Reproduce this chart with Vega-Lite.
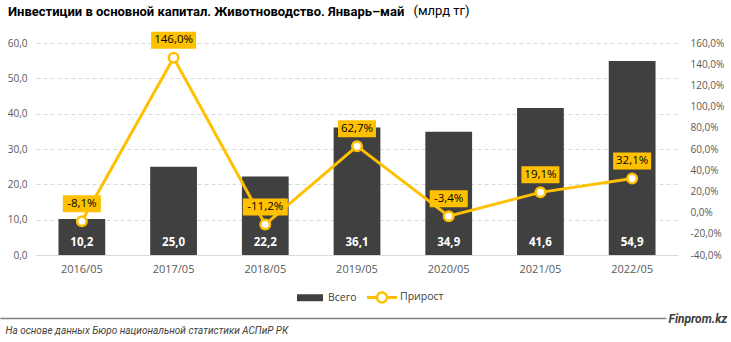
{
  "$schema": "https://vega.github.io/schema/vega-lite/v6.json",
  "width": 642,
  "height": 212,
  "autosize": {"type": "none"},
  "padding": {"left": 36, "top": 43, "right": 53, "bottom": 87},
  "background": "white",
  "config": {
    "locale": {"number": {"decimal": ",", "thousands": " ", "grouping": [3], "currency": ["", ""], "minus": "-"}},
    "font": "Open Sans",
    "view": {"stroke": null}
  },
  "title": {
    "text": "Инвестиции в основной капитал. Животноводство. Январь–май",
    "anchor": "start",
    "frame": "group",
    "dx": -28,
    "offset": -15,
    "font": "Roboto",
    "fontSize": 13,
    "fontWeight": "bold",
    "color": "#000000"
  },
  "data": {
    "values": [
      {"cat": "2016/05", "value": 10.2, "growth": -0.081},
      {"cat": "2017/05", "value": 25.0, "growth": 1.46},
      {"cat": "2018/05", "value": 22.2, "growth": -0.112},
      {"cat": "2019/05", "value": 36.1, "growth": 0.627},
      {"cat": "2020/05", "value": 34.9, "growth": -0.034},
      {"cat": "2021/05", "value": 41.6, "growth": 0.191},
      {"cat": "2022/05", "value": 54.9, "growth": 0.321}
    ]
  },
  "resolve": {"scale": {"x": "independent", "y": "independent"}},
  "layer": [
    {
      "resolve": {"scale": {"y": "independent"}},
      "encoding": {
        "x": {
          "field": "cat",
          "type": "nominal",
          "sort": null,
          "scale": {"type": "band", "paddingInner": 0.49, "paddingOuter": 0.245},
          "axis": {
            "title": "На основе данных Бюро национальной статистики АСПиР РК",
            "titleX": -31,
            "titleY": 75,
            "titleAlign": "left",
            "titleBaseline": "middle",
            "titleFontStyle": "italic",
            "titleFontWeight": "normal",
            "titleFontSize": 10,
            "titleFont": "Roboto",
            "titleColor": "#404040",
            "labelAngle": 0,
            "labelColor": "#595959",
            "labelFontSize": 11,
            "labelPadding": 8,
            "ticks": false,
            "domainColor": "#d9d9d9",
            "domainWidth": 1
          }
        }
      },
      "layer": [
        {
          "encoding": {
            "y": {
              "field": "value",
              "type": "quantitative",
              "scale": {"domain": [0, 60], "nice": false},
              "axis": {
                "values": [0, 10, 20, 30, 40, 50, 60],
                "format": ".1f",
                "labelColor": "#595959",
                "labelFontSize": 10,
                "labelPadding": 9,
                "domain": false,
                "ticks": false,
                "grid": true,
                "gridColor": "#d9d9d9",
                "gridDash": [4, 3],
                "title": "(млрд тг)",
                "titleAngle": 0,
                "titleX": 377,
                "titleY": -33,
                "titleAlign": "left",
                "titleBaseline": "middle",
                "titleFontWeight": "normal",
                "titleFontSize": 13,
                "titleColor": "#000000",
                "titleFont": "Roboto"
              }
            }
          },
          "layer": [
            {
              "mark": {"type": "bar"},
              "encoding": {
                "color": {
                  "datum": "Всего",
                  "type": "nominal",
                  "scale": {"domain": ["Всего", "Прирост"], "range": ["#404040", "#FFC000"]},
                  "legend": {
                    "title": null,
                    "orient": "none",
                    "legendX": 259,
                    "legendY": 239,
                    "direction": "horizontal",
                    "symbolSize": 900,
                    "labelFontSize": 10.5,
                    "labelColor": "#404040",
                    "labelOffset": 3,
                    "columnPadding": 10,
                    "encode": {
                      "symbols": {
                        "update": {
                          "shape": {"signal": "datum.value === 'Всего' ? 'M-0.867,-0.233H0.867V0.233H-0.867Z' : 'M-1,-0.1H-0.38V0.1H-1Z M0.38,-0.1H1V0.1H0.38Z M0.41,0A0.41,0.41,0,1,1,-0.41,0A0.41,0.41,0,1,1,0.41,0Z M0.25,0A0.25,0.25,0,1,0,-0.25,0A0.25,0.25,0,1,0,0.25,0Z'"},
                          "stroke": {"value": "transparent"},
                          "strokeWidth": {"value": 0},
                          "opacity": {"value": 1}
                        }
                      }
                    }
                  }
                }
              }
            },
            {
              "mark": {"type": "text", "dy": -12, "baseline": "middle", "fontSize": 11.5, "fontWeight": "bold", "color": "#ffffff"},
              "encoding": {
                "y": {"datum": 0, "type": "quantitative"},
                "text": {"field": "value", "type": "quantitative", "format": ".1f"}
              }
            }
          ]
        },
        {
          "encoding": {
            "y": {
              "field": "growth",
              "type": "quantitative",
              "scale": {"domain": [-0.4, 1.6], "nice": false, "zero": false},
              "axis": {
                "orient": "right",
                "values": [-0.4, -0.2, 0, 0.2, 0.4, 0.6, 0.8, 1.0, 1.2, 1.4, 1.6],
                "format": ".1%",
                "labelColor": "#595959",
                "labelFontSize": 10,
                "labelPadding": 12,
                "domain": false,
                "ticks": false,
                "grid": false,
                "title": null
              }
            }
          },
          "layer": [
            {
              "mark": {"type": "line", "strokeWidth": 3},
              "encoding": {"color": {"datum": "Прирост", "type": "nominal"}}
            },
            {
              "mark": {"type": "point", "filled": true, "fill": "#ffffff", "stroke": "#FFC000", "strokeWidth": 2.5, "size": 90, "opacity": 1}
            },
            {
              "transform": [{"filter": "datum.growth >= 1 || datum.growth <= -0.1"}],
              "mark": {"type": "bar", "color": "#FFC000", "width": 45, "yOffset": -26, "y2Offset": -9},
              "encoding": {"y2": {"field": "growth"}}
            },
            {
              "transform": [{"filter": "datum.growth < 1 && datum.growth > -0.1"}],
              "mark": {"type": "bar", "color": "#FFC000", "width": 38, "yOffset": -26, "y2Offset": -9},
              "encoding": {"y2": {"field": "growth"}}
            },
            {
              "mark": {"type": "text", "dy": -17.5, "baseline": "middle", "fontSize": 11.5, "color": "#000000"},
              "encoding": {"text": {"field": "growth", "type": "quantitative", "format": ".1%"}}
            }
          ]
        }
      ]
    },
    {
      "mark": {"type": "point", "opacity": 0},
      "encoding": {
        "x": {
          "datum": 0.5,
          "type": "quantitative",
          "scale": {"domain": [0, 1], "range": [-36, 630]},
          "axis": {
            "orient": "bottom",
            "offset": 63,
            "labels": false,
            "ticks": false,
            "grid": false,
            "domainColor": "#808080",
            "domainWidth": 1.5,
            "title": "Finprom.kz",
            "titleX": 632,
            "titleY": 0,
            "titleAlign": "left",
            "titleBaseline": "middle",
            "titleFontStyle": "italic",
            "titleFontWeight": "bold",
            "titleFontSize": 12,
            "titleColor": "#404040",
            "titleFont": "Roboto"
          }
        }
      }
    }
  ]
}
